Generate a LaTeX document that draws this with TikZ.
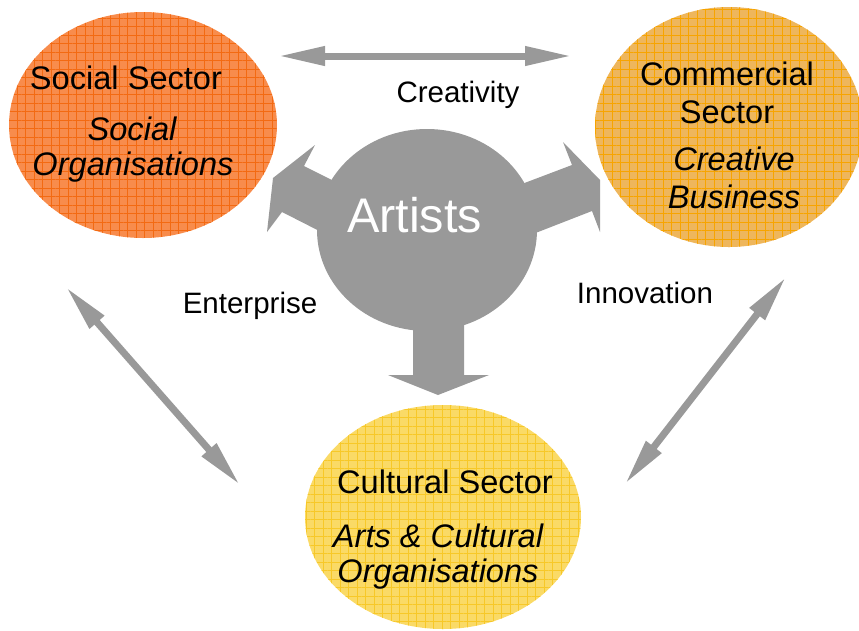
\documentclass[tikz,border=0pt]{standalone}
\usepackage{fontspec}
\setmainfont{Liberation Sans}
\usetikzlibrary{calc, shapes.geometric, patterns.meta, arrows.meta}

\definecolor{socialorange}{HTML}{F88C4C}
\definecolor{socialgrid}{HTML}{F36A12}
\definecolor{commercialgold}{HTML}{EEB65C}
\definecolor{commercialgrid}{HTML}{F7A400}
\definecolor{culturalyellow}{HTML}{FADA66}
\definecolor{culturalgrid}{HTML}{F7C828}
\definecolor{artistgrey}{HTML}{999999}

\begin{document}
\begin{tikzpicture}[x=1pt, y=-1pt]
    \tikzstyle{sector} = [ellipse, inner sep=0pt, draw=none]
    \tikzstyle{title} = [anchor=base, inner sep=0pt, font=\fontsize{32.6}{38}\selectfont]
    \tikzstyle{subtitle} = [anchor=base, inner sep=0pt, font=\fontsize{32.6}{38}\selectfont\itshape]
    \tikzstyle{link} = [anchor=base, inner sep=0pt, font=\fontsize{29.5}{34}\selectfont]
    \tikzstyle{twoway} = [artistgrey, line width=7pt, {Triangle[length=47pt, width=18pt]}-{Triangle[length=47pt, width=18pt]}]

    \useasboundingbox (0,0) rectangle (859,630);

    % Sectors ------------------------------------------
    \node (social) at (143,125) [sector, minimum width=268pt, minimum height=226pt,
        preaction={fill=socialorange}, pattern={Hatch[angle=0, distance=8.5pt, line width=0.6pt]},
        pattern color=socialgrid] {};
    \node (commercial) at (729,127) [sector, minimum width=268pt, minimum height=240pt,
        preaction={fill=commercialgold}, pattern={Hatch[angle=0, distance=8.5pt, line width=0.6pt]},
        pattern color=commercialgrid] {};
    \node (cultural) at (443,517) [sector, minimum width=276pt, minimum height=224pt,
        preaction={fill=culturalyellow}, pattern={Hatch[angle=0, distance=8.5pt, line width=0.6pt]},
        pattern color=culturalgrid] {};
    % ---------------------------------------------------

    % Links between sectors
    \coordinate (creativity_l) at (278,56);
    \coordinate (creativity_r) at (572,56);
    \coordinate (enterprise_t) at (66,287);
    \coordinate (enterprise_b) at (240,485);
    \coordinate (innovation_t) at (786,277);
    \coordinate (innovation_b) at (625,484);

    \draw [twoway] (creativity_l) -- (creativity_r);
    \draw [twoway] (enterprise_t) -- (enterprise_b);
    \draw [twoway] (innovation_t) -- (innovation_b);

    % Artists -------------------------------------------
    \node (artists) at (427,230) [ellipse, inner sep=0pt, fill=artistgrey,
        minimum width=220pt, minimum height=202pt] {};
    \fill [artistgrey] (350,189) -- (304,166) -- (315,145) -- (273,178) --
        (267,232) -- (282,212) -- (337,240) -- cycle;
    \fill [artistgrey] (506,190) -- (572,165) -- (563,142) -- (600,180) --
        (600,232) -- (592,211) -- (515,241) -- cycle;
    \fill [artistgrey] (413,300) -- (413,375) -- (388,375) -- (438,395) --
        (489,375) -- (464,375) -- (464,300) -- cycle;
    \node (artists_label) at (414.5,232) [anchor=base, inner sep=0pt, text=white,
        font=\fontsize{48.6}{56}\selectfont] {Artists};
    % ---------------------------------------------------

    % Labels
    \node (social_title) at (126,89) [title] {Social Sector};
    \node (social_sub1) at (132,140) [subtitle] {Social};
    \node (social_sub2) at (133,175) [subtitle] {Organisations};

    \node (commercial_title1) at (727,85) [title] {Commercial};
    \node (commercial_title2) at (727,123) [title] {Sector};
    \node (commercial_sub1) at (734,170) [subtitle] {Creative};
    \node (commercial_sub2) at (734,208) [subtitle] {Business};

    \node (cultural_title) at (445,493) [title] {Cultural Sector};
    \node (cultural_sub1) at (438,547) [subtitle] {Arts \& Cultural};
    \node (cultural_sub2) at (438,582) [subtitle] {Organisations};

    \node (creativity) at (458,102) [link] {Creativity};
    \node (enterprise) at (250,313) [link] {Enterprise};
    \node (innovation) at (645,303) [link] {Innovation};
\end{tikzpicture}
\end{document}
